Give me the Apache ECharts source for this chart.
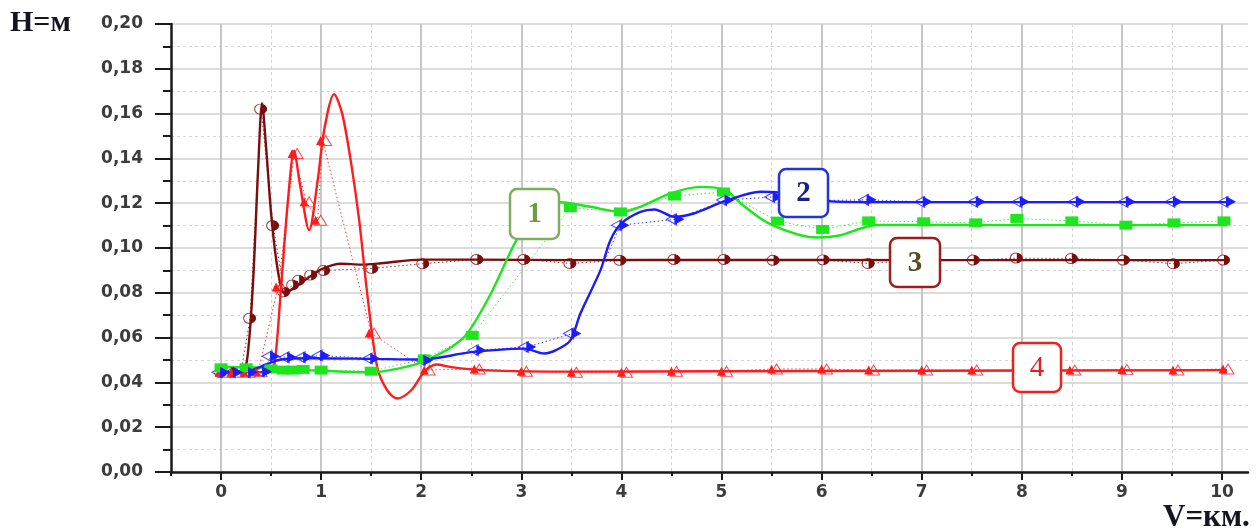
<!DOCTYPE html>
<html><head><meta charset="utf-8">
<script src="https://cdn.jsdelivr.net/npm/echarts@6/dist/echarts.min.js"></script>
<style>html,body{margin:0;padding:0;background:#fff}#c{width:1257px;height:530px}</style>
</head><body><div id="c"></div>
<script>
// ---- tick values ----
const xMajorTicks = [0, 1, 2, 3, 4, 5, 6, 7, 8, 9, 10];
const xMinorTicks = [-0.5, 0.5, 1.5, 2.5, 3.5, 4.5, 5.5, 6.5, 7.5, 8.5, 9.5];
const yAxisTitle = 'H=м';
const xAxisTitle = 'V=км.';
const curveLabels = ['1', '2', '3', '4'];

// ---- series 1 (green) ----
const greenPoints = [[0,0.0465],[0.25,0.0465],[0.5,0.046],[0.62,0.0455],[0.72,0.0455],[0.82,0.0458],[1.0,0.0455],[1.5,0.045],[2.03,0.0505],[2.51,0.061],[3.49,0.118],[3.99,0.1161],[4.53,0.1232],[5.02,0.125],[5.56,0.112],[6.01,0.1083],[6.47,0.1121],[7.02,0.1117],[7.54,0.1112],[7.95,0.1132],[8.5,0.1121],[9.04,0.1102],[9.52,0.1112],[10.02,0.1121]];
const greenCurve = [[0,0.047],[0.5,0.0465],[1.0,0.0452],[1.5,0.0445],[1.9,0.0475],[2.1,0.051],[2.3,0.0557],[2.46,0.0618],[2.7,0.08],[2.95,0.1034],[3.15,0.116],[3.39,0.1204],[3.69,0.1184],[4.0,0.1161],[4.19,0.1184],[4.49,0.1244],[4.79,0.1273],[5.04,0.1258],[5.19,0.12],[5.39,0.1132],[5.52,0.110],[5.79,0.1057],[5.96,0.1047],[6.19,0.1057],[6.39,0.1087],[6.55,0.1103],[7.0,0.1103],[8.0,0.1102],[9.0,0.1102],[10.05,0.1102]];

// ---- series 2 (blue) ----
const bluePoints = [[0,0.0445],[0.13,0.0445],[0.28,0.0445],[0.42,0.0448],[0.5,0.0517],[0.67,0.0512],[0.83,0.0512],[1.0,0.052],[1.5,0.0507],[2.03,0.0499],[2.56,0.0544],[3.06,0.0558],[3.51,0.0618],[3.99,0.1102],[4.54,0.1128],[5.04,0.1214],[5.52,0.1228],[6.0,0.1212],[6.46,0.1215],[7.02,0.1206],[7.55,0.1206],[7.99,0.1206],[8.55,0.1206],[9.05,0.1206],[9.52,0.1206],[10.05,0.1206]];
const blueCurve = [[0,0.0445],[0.3,0.0455],[0.45,0.048],[0.6,0.0502],[0.9,0.0508],[1.5,0.0505],[2.0,0.0502],[2.5,0.0535],[3.03,0.0551],[3.23,0.0529],[3.35,0.0545],[3.49,0.0588],[3.59,0.0708],[3.79,0.090],[3.89,0.1035],[4.0,0.111],[4.19,0.1161],[4.33,0.1172],[4.53,0.1139],[4.72,0.1154],[5.04,0.121],[5.39,0.1251],[5.57,0.1248],[5.8,0.1232],[6.1,0.1208],[6.5,0.1205],[7.5,0.1205],[8.5,0.1205],[9.5,0.1205],[10.1,0.1205]];

// ---- series 3 (brown) ----
const brownPoints = [[0,0.0445],[0.1,0.0445],[0.2,0.0448],[0.29,0.0686],[0.4,0.162],[0.52,0.110],[0.63,0.0804],[0.72,0.0835],[0.78,0.0856],[0.9,0.0879],[1.03,0.090],[1.51,0.0909],[2.02,0.093],[2.56,0.0949],[3.03,0.0949],[3.49,0.0931],[3.99,0.0945],[4.53,0.0949],[5.03,0.0949],[5.52,0.0945],[6.02,0.0947],[6.47,0.0931],[7.0,0.0946],[7.52,0.0946],[7.95,0.0955],[8.5,0.0953],[9.02,0.0946],[9.52,0.093],[10.02,0.0946]];
const brownCurve = [[0,0.0445],[0.2,0.0447],[0.26,0.05],[0.32,0.085],[0.37,0.135],[0.41,0.1646],[0.45,0.145],[0.5,0.1154],[0.55,0.095],[0.6,0.0826],[0.64,0.0795],[0.72,0.082],[0.85,0.086],[1.0,0.0905],[1.2,0.093],[1.4,0.0926],[1.6,0.0932],[2.0,0.0948],[2.5,0.0948],[3.5,0.0946],[5.0,0.0947],[7.0,0.0946],[10.05,0.0946]];

// ---- series 4 (red) ----
const redPoints = [[0,0.0445],[0.12,0.0445],[0.25,0.0445],[0.37,0.0448],[0.57,0.0826],[0.73,0.1422],[0.85,0.1206],[0.965,0.1124],[1.015,0.148],[1.5,0.062],[2.05,0.0455],[2.55,0.046],[3.02,0.045],[3.52,0.0445],[4.02,0.0445],[4.52,0.045],[5.02,0.045],[5.52,0.046],[6.02,0.046],[6.49,0.0455],[7.02,0.0455],[7.52,0.0455],[8.0,0.0455],[8.5,0.0455],[9.02,0.0458],[9.53,0.0455],[10.03,0.046]];
const redCurve = [[0,0.0445],[0.4,0.0445],[0.5,0.0455],[0.54,0.05],[0.6,0.0826],[0.67,0.122],[0.73,0.1434],[0.79,0.128],[0.88,0.108],[0.965,0.130],[1.03,0.1526],[1.13,0.1687],[1.21,0.160],[1.30,0.1378],[1.38,0.1124],[1.46,0.0797],[1.56,0.0469],[1.66,0.0365],[1.76,0.0328],[1.9,0.0365],[2.03,0.0447],[2.15,0.048],[2.3,0.0468],[2.6,0.0455],[3.5,0.0448],[5.0,0.045],[7.0,0.0452],[10.05,0.0455]];

const C = {green:'#1ee61e', blue:'#1c1cff', brown:'#7a0e0e', red:'#ff1c1c'};

const chart = echarts.init(document.getElementById('c'), null, {renderer:'canvas'});

function curve(data, color) {
  return {type:'line', data, smooth:0.3, symbol:'none', silent:true,
    lineStyle:{color, width:2.4}};
}
function dotted(data, color, symbol, size, offset) {
  return {type:'line', data, smooth:false, silent:true,
    symbol, symbolSize:size, symbolOffset:offset, showAllSymbol:true,
    itemStyle:{color, borderWidth:0},
    lineStyle:{color, width:1, type:[1.5,2.5], opacity:0.85}};
}
function hollow(data, color, symbol, size, offset) {
  return {type:'scatter', data, silent:true, symbol, symbolSize:size, symbolOffset:offset,
    itemStyle:{color:'#ffffff', borderColor:color, borderWidth:1}};
}
const triRight = 'path://M0,0 L10,5 L0,10 Z';
const triLeft = 'path://M10,0 L0,5 L10,10 Z';
const halfRight = 'path://M0,0 C5.5,0 10,2.2 10,5 C10,7.8 5.5,10 0,10 Z';

function box(x, y, w, h, label, stroke, textColor, weight) {
  return {type:'group', x, y, z:100, children:[
    {type:'rect', z:100, shape:{x:0, y:0, width:w, height:h, r:7},
      style:{fill:'#ffffff', stroke, lineWidth:2.5}},
    {type:'text', z:101, style:{text:label, x:w/2, y:h/2+1, align:'center', verticalAlign:'middle',
      font: weight + ' 29px "Liberation Serif", "DejaVu Serif", serif', fill:textColor}}
  ]};
}

const labelFont = {color:'#3c3c3c', fontFamily:'DejaVu Sans', fontWeight:'bold', fontSize:17};

const option = {
  animation:false,
  backgroundColor:'#ffffff',
  grid:{left:171, right:9, top:24, bottom:58, outerBoundsMode:'none'},
  xAxis:[{
    type:'value', min:-0.5, max:10.26, interval:0.5,
    axisLine:{show:true, onZero:false, lineStyle:{color:'#1a1a1a', width:2.5}},
    axisTick:{show:true, customValues:xMajorTicks, length:8, lineStyle:{color:'#1a1a1a', width:2}},
    axisLabel:Object.assign({customValues:xMajorTicks, margin:12}, labelFont),
    splitLine:{show:true, lineStyle:{color:'#c6c6c6', width:2}}
  },{
    type:'value', min:-0.5, max:10.26, interval:0.5, position:'bottom',
    axisLine:{show:false, onZero:false},
    axisTick:{show:true, customValues:xMinorTicks, length:4, lineStyle:{color:'#1a1a1a', width:2}},
    axisLabel:{show:false},
    splitLine:{show:true, lineStyle:{color:'#d4d4d4', width:1, type:[3,3]}}
  }],
  yAxis:{
    type:'value', min:0, max:0.2, interval:0.02,
    axisLine:{show:true, onZero:false, lineStyle:{color:'#1a1a1a', width:2.5}},
    axisTick:{show:true, length:16, lineStyle:{color:'#1a1a1a', width:2}},
    minorTick:{show:true, splitNumber:2, length:8, lineStyle:{color:'#1a1a1a', width:2}},
    axisLabel:Object.assign({margin:28, formatter: v => v.toFixed(2).replace('.', ',')}, labelFont),
    splitLine:{show:true, lineStyle:{color:'#d0d0d0', width:1.5}},
    minorSplitLine:{show:true, lineStyle:{color:'#d6d6d6', width:1, type:[3,3]}}
  },
  series:[
    curve(brownCurve, C.brown),
    dotted(brownPoints, C.brown, halfRight, [6,10], [3,0]),
    hollow(brownPoints, C.brown, 'circle', [11,10], [-1,0]),
    curve(redCurve, C.red),
    hollow(redPoints, C.red, 'triangle', [12,10], [3,0]),
    dotted(redPoints, C.red, 'triangle', [9,9], [-2,0]),
    curve(greenCurve, C.green),
    dotted(greenPoints, C.green, 'rect', [13,9], [0,0]),
    curve(blueCurve, C.blue),
    hollow(bluePoints, C.blue, triLeft, [10,11], [-4,0]),
    dotted(bluePoints, C.blue, triRight, [10,11], [4,0])
  ],
  graphic:[
    {type:'text', x:10, y:8, z:100, style:{text:yAxisTitle, verticalAlign:'top',
      font:'bold 30px "Liberation Serif", "DejaVu Serif", serif', fill:'#151520'}},
    {type:'text', x:1163, y:502, z:100, style:{text:xAxisTitle, verticalAlign:'top',
      font:'bold 31px "Liberation Serif", "DejaVu Serif", serif', fill:'#151520'}},
    box(510, 189, 49, 50, curveLabels[0], '#7cae5c', '#6a9c40', 'bold'),
    box(779, 169, 49, 48, curveLabels[1], '#2233e0', '#1a2088', 'bold'),
    box(890, 238, 50, 49, curveLabels[2], '#a01c1c', '#5b4a1e', 'bold'),
    box(1013, 343, 48, 49, curveLabels[3], '#f02020', '#e61e1e', 'normal')
  ]
};
chart.setOption(option);
</script>
</body></html>
